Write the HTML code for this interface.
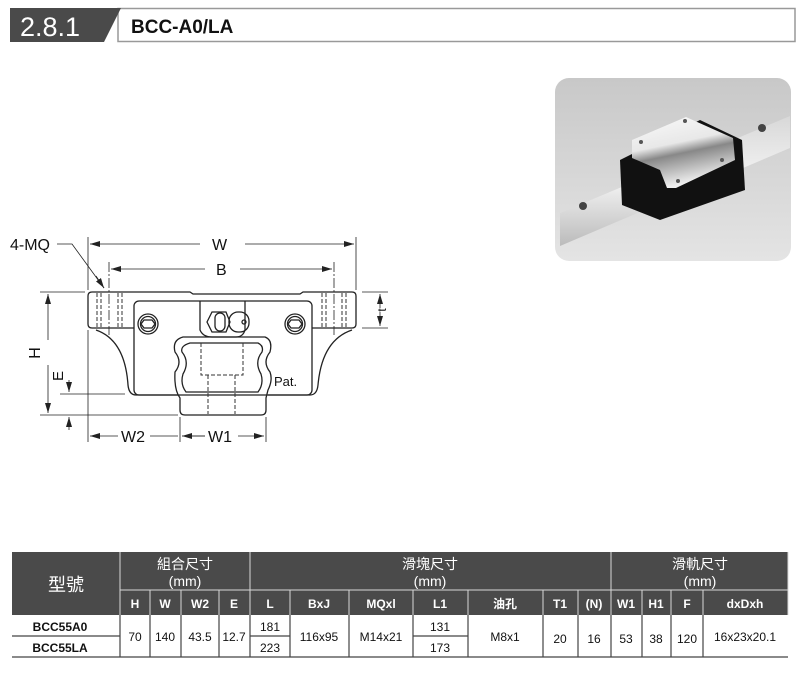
<!DOCTYPE html>
<html><head><meta charset="utf-8"><style>
body{margin:0;background:#fff;width:800px;height:675px;overflow:hidden;font-family:"Liberation Sans","Noto Sans CJK TC",sans-serif}
svg text{font-family:"Liberation Sans","Noto Sans CJK TC",sans-serif}
</style></head><body>
<svg width="800" height="675" viewBox="0 0 800 675" xmlns="http://www.w3.org/2000/svg">
<defs>
<marker id="a" viewBox="0 0 10 6" refX="10" refY="3" markerWidth="10" markerHeight="6" orient="auto-start-reverse" markerUnits="userSpaceOnUse"><path d="M0,0 L10,3 L0,6z" fill="#222"/></marker>
<linearGradient id="bg" x1="0" y1="0" x2="0" y2="1"><stop offset="0" stop-color="#c8c8c8"/><stop offset="1" stop-color="#e4e4e4"/></linearGradient>
<linearGradient id="rl" x1="0" y1="0" x2="0" y2="1"><stop offset="0" stop-color="#d8d8d8"/><stop offset="0.5" stop-color="#f4f4f4"/><stop offset="1" stop-color="#bbb"/></linearGradient>
<linearGradient id="mt" x1="0" y1="0" x2="0.3" y2="1"><stop offset="0" stop-color="#fafafa"/><stop offset="0.45" stop-color="#e8e8e8"/><stop offset="0.6" stop-color="#888"/><stop offset="1" stop-color="#f0f0f0"/></linearGradient>
</defs>
<rect x="118" y="8.5" width="677" height="33" fill="#fff" stroke="#999" stroke-width="1.5"/>
<path d="M10,8 L121,8 L104,42 L10,42z" fill="#4a4a4a"/>
<text x="20" y="36" font-size="27" fill="#fff">2.8.1</text>
<text x="131" y="33" font-size="19" font-weight="bold" fill="#111">BCC-A0/LA</text>
<rect x="555" y="78" width="236" height="183" rx="14" fill="url(#bg)"/>
<path d="M560,213 L790,116 L790,148 L560,246z" fill="url(#rl)"/>
<circle cx="583" cy="206" r="4" fill="#444"/><circle cx="762" cy="128" r="4" fill="#444"/>
<path d="M620,160 L700,120 L742,140 L745,190 L660,220 L622,205z" fill="#111"/>
<path d="M632,140 L686,117 L733,138 L735,160 L676,188 L667,188 L660,170 L632,158z" fill="url(#mt)"/>
<circle cx="641" cy="142" r="2" fill="#555"/><circle cx="685" cy="121" r="2" fill="#555"/><circle cx="678" cy="181" r="2" fill="#555"/><circle cx="722" cy="160" r="2" fill="#555"/>
<g fill="none" stroke="#222" stroke-width="1.3">
<path d="M92,292 L190,292 L193,294 L300,294 L303,292 L352,292 Q356,292 356,296 L356,324 Q356,328 352,328 L312,328"/>
<path d="M92,292 Q88,292 88,296 L88,324 Q88,328 92,328 L134,328"/>
<path d="M96,330 Q125,340 128,385 Q129,395 136,395 L178,395"/>
<path d="M352,330 Q322,340 318,385 Q317,395 310,395 L268,395"/>
<rect x="134" y="301" width="178" height="94" rx="5"/>
<path d="M200,301 L200,330 Q203,337 212,337 L236,337 Q243,337 245,330 L245,301"/>
<circle cx="148" cy="324" r="10"/><circle cx="148" cy="324" r="7.5"/><path d="M144,320 L152,320 L155,324 L152,328 L144,328 L141,324z"/>
<circle cx="295" cy="324" r="10"/><circle cx="295" cy="324" r="7.5"/><path d="M291,320 L299,320 L302,324 L299,328 L291,328 L288,324z"/>
<path d="M207,322 L212,312 L226,312 L230,322 L226,332 L212,332z"/>
<rect x="215" y="313" width="10" height="18" rx="5"/><rect x="229" y="312" width="20" height="20" rx="9"/><circle cx="244" cy="322" r="2"/>
<path d="M183,337 L265,337 Q273,340 270,352 Q262,362 270,372 Q273,380 268,390 L266,398 L266,410 Q266,415 261,415 L185,415 Q180,415 180,410 L180,398 Q174,390 175,372 Q183,362 175,352 Q172,340 183,337z"/>
<path d="M190,343 L258,343 Q264,346 262,352 Q254,362 261,374 Q264,384 258,392 L186,392 Q180,384 183,374 Q190,362 182,352 Q180,346 190,343z"/>
</g>
<g fill="none" stroke="#333" stroke-width="1" stroke-dasharray="4,2">
<path d="M201,343 L201,375 L243,375 L243,343 M208,375 L208,414 M235,375 L235,414"/>
<path d="M97,293 L97,327 M101,293 L101,327 M118,293 L118,327 M122,293 L122,327"/>
<path d="M322,293 L322,327 M326,293 L326,327 M342,293 L342,327 M346,293 L346,327"/>
</g>
<g stroke="#222" stroke-width="0.8" fill="none">
<path d="M109,262 L109,335 M334,262 L334,335" stroke-dasharray="10,2,2,2"/>
<path d="M88,237 L88,290 M356,237 L356,290 M88,330 L88,442 M180,417 L180,442 M266,417 L266,442"/>
<path d="M40,292 L85,292 M40,415 L178,415 M60,394 L125,394 M362,292 L388,292 M362,328 L388,328"/>
<path d="M90,244 L200,244 M245,244 L354,244" marker-start="url(#a)" marker-end="url(#a)"/>
<path d="M111,269 L205,269 M240,269 L332,269" marker-start="url(#a)" marker-end="url(#a)"/>
<path d="M48,294 L48,340 M48,365 L48,413" marker-start="url(#a)" marker-end="url(#a)"/>
<path d="M69,380 L69,392" marker-end="url(#a)"/><path d="M69,430 L69,417" marker-end="url(#a)"/>
<path d="M380,308 L380,294" marker-end="url(#a)"/><path d="M380,312 L380,326" marker-end="url(#a)"/>
<path d="M90,436 L118,436" marker-start="url(#a)"/>
<path d="M150,436 L178,436 M182,436 L205,436 M238,436 L264,436" marker-end="url(#a)"/>
<path d="M182,436 L205,436" marker-start="url(#a)"/>
<path d="M57,244 L72,244 L104,288"/><path d="M96,276 L104,288" marker-end="url(#a)"/>
</g>
<g font-size="16" fill="#111">
<text x="212" y="250">W</text><text x="216" y="275">B</text>
<text x="10" y="250">4-MQ</text>
<text x="121" y="442">W2</text><text x="208" y="442">W1</text>
<text x="274" y="386" font-size="13">Pat.</text>
<text transform="translate(40,353) rotate(-90)" text-anchor="middle">H</text>
<text transform="translate(63,376) rotate(-90)" text-anchor="middle" font-size="15">E</text>
<text transform="translate(386,310) rotate(-90)" text-anchor="middle" font-size="12">t</text>
</g>
<rect x="12" y="552" width="776" height="63" fill="#4a4a4a"/>
<rect x="12" y="615" width="776" height="42" fill="#fff"/>
<g stroke="#d8d8d8" stroke-width="1">
<path d="M120,552 L120,615 M250,552 L250,615 M611,552 L611,615 M120,590 L788,590"/>
<path d="M150,590 V615 M181,590 V615 M219,590 V615 M290,590 V615 M349,590 V615 M413,590 V615 M468,590 V615 M543,590 V615 M578,590 V615 M642,590 V615 M671,590 V615 M703,590 V615 M788,552 V615"/>
</g>
<g stroke="#444" stroke-width="1.2">
<path d="M12,657 L788,657"/>
<path d="M12,636 L120,636 M250,636 L290,636 M413,636 L468,636"/>
<path d="M120,615 V657 M150,615 V657 M181,615 V657 M219,615 V657 M250,615 V657 M290,615 V657 M349,615 V657 M413,615 V657 M468,615 V657 M543,615 V657 M578,615 V657 M611,615 V657 M642,615 V657 M671,615 V657 M703,615 V657"/>
</g>
<g fill="#fff" text-anchor="middle" font-size="14">
<text x="66" y="591" font-size="18">型號</text>
<text x="185" y="569">組合尺寸</text><text x="185" y="586">(mm)</text>
<text x="430" y="569">滑塊尺寸</text><text x="430" y="586">(mm)</text>
<text x="700" y="569">滑軌尺寸</text><text x="700" y="586">(mm)</text>
<g font-size="12" font-weight="bold">
<text x="135" y="608">H</text><text x="165" y="608">W</text><text x="200" y="608">W2</text><text x="234" y="608">E</text>
<text x="270" y="608">L</text><text x="319" y="608">BxJ</text><text x="381" y="608">MQxl</text><text x="440" y="608">L1</text>
<text x="505" y="608">油孔</text><text x="560" y="608">T1</text><text x="594" y="608">(N)</text>
<text x="626" y="608">W1</text><text x="656" y="608">H1</text><text x="687" y="608">F</text><text x="745" y="608">dxDxh</text>
</g></g>
<g fill="#111" text-anchor="middle" font-size="12">
<text x="60" y="631" font-weight="bold">BCC55A0</text><text x="60" y="652" font-weight="bold">BCC55LA</text>
<text x="135" y="641">70</text><text x="165" y="641">140</text><text x="200" y="641">43.5</text><text x="234" y="641">12.7</text>
<text x="270" y="631">181</text><text x="270" y="652">223</text><text x="319" y="641">116x95</text><text x="381" y="641">M14x21</text>
<text x="440" y="631">131</text><text x="440" y="652">173</text><text x="505" y="641">M8x1</text>
<text x="560" y="643">20</text><text x="594" y="643">16</text><text x="626" y="643">53</text><text x="656" y="643">38</text><text x="687" y="643">120</text><text x="745" y="641">16x23x20.1</text>
</g>
</svg>
</body></html>
